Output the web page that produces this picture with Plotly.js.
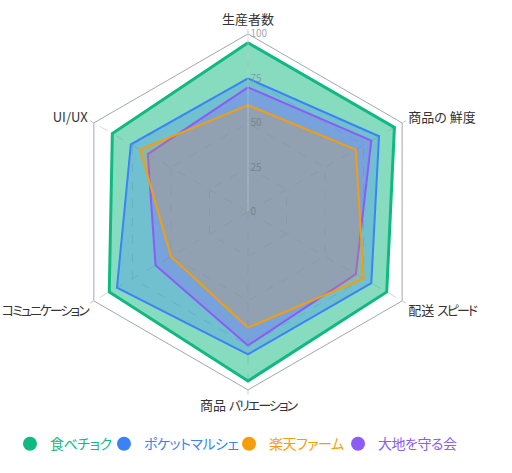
<!DOCTYPE html>
<html>
<head>
<meta charset="utf-8">
<script src="https://cdn.plot.ly/plotly-3.0.1.min.js"></script>
<style>
html,body{margin:0;padding:0;background:#fff;}
#chart{width:512px;height:473px;}
#chart svg text{font-feature-settings:"palt" 1;}
</style>
</head>
<body>
<div id="chart"></div>
<script>
var categories = ['生産者数', '商品の 鮮度', '配送 スピード', '商品 バリエーション', 'コミュニケーション', 'UI/UX'];
var seriesNames = ['食べチョク', 'ポケットマルシェ', '楽天ファーム', '大地を守る会'];
var tabechoku = [95, 95, 90, 95, 90, 88];
var pocketMarche = [75, 85, 80, 80, 85, 76];
var rakutenFarm = [60, 70, 75, 65, 50, 70];
var daichi = [70, 80, 70, 75, 60, 65];
var radialTicks = [0, 25, 50, 75, 100];

var seriesValues = [tabechoku, pocketMarche, rakutenFarm, daichi];
var colors = ['#10b981', '#3b82f6', '#f59e0b', '#8b5cf6'];
var fills = ['rgba(16,185,129,0.5)', 'rgba(59,130,246,0.3)', 'rgba(245,158,11,0.2)', 'rgba(139,92,246,0.3)'];
var widths = [3, 2, 2, 2];
var order = [0, 1, 3, 2];
var tickColors = ['#76838f', '#76838f', '#76838f', '#8a97a8', '#a3a8b3'];
var legendX = [0.0195, 0.2031, 0.4473, 0.6602];
var legendIds = ['legend', 'legend2', 'legend3', 'legend4'];

// narrow the katakana runs to match the reference's proportional kana
function condenseKana(s, sp){
  return s.replace(/([\u30A0-\u30FF]+)/g, '<span style="letter-spacing:' + sp + 'px">$1</span>');
}

var font = '"Noto Sans CJK JP", "Noto Sans", sans-serif';
var traces = [];
order.forEach(function(i){
  var v = seriesValues[i];
  traces.push({
    type: 'scatterpolar',
    r: v.concat([v[0]]),
    theta: categories.concat([categories[0]]),
    mode: 'lines',
    fill: 'toself',
    fillcolor: fills[i],
    line: {color: colors[i], width: widths[i]},
    name: seriesNames[i],
    showlegend: false,
    hoverinfo: 'skip'
  });
});
seriesNames.forEach(function(n, i){
  traces.push({
    type: 'scatterpolar',
    r: [null], theta: [null],
    mode: 'markers',
    marker: {color: colors[i], size: 14, symbol: 'circle'},
    name: '<span style="color:' + colors[i] + ';letter-spacing:-0.5px">' + n + '</span>',
    showlegend: true,
    legend: legendIds[i]
  });
});

var layout = {
  width: 512, height: 473,
  margin: {l: 0, r: 0, t: 0, b: 0},
  paper_bgcolor: '#ffffff',
  font: {family: font, color: '#374151', size: 12},
  polar: {
    domain: {x: [0.1367, 0.832], y: [0.1757, 0.9283]},
    bgcolor: '#ffffff',
    gridshape: 'linear',
    angularaxis: {
      direction: 'clockwise',
      rotation: 90,
      categoryorder: 'array',
      categoryarray: categories,
      tickmode: 'array',
      tickvals: categories,
      ticktext: categories.map(function(c){ return condenseKana(c, -2); }),
      linecolor: '#a3a7b5',
      linewidth: 1,
      gridcolor: '#d6d9de',
      griddash: 'dash',
      ticks: 'outside',
      ticklen: 4,
      tickcolor: '#c4c7cf',
      tickfont: {size: 13, color: '#333333', family: font}
    },
    radialaxis: {
      range: [0, 100],
      tickvals: radialTicks,
      ticktext: radialTicks.map(function(t, k){ return '<span style="color:' + tickColors[k] + '">' + t + '</span>'; }),
      angle: 90,
      tickangle: 90,
      layer: 'above traces',
      showline: true,
      linecolor: 'rgba(200,204,210,0.6)',
      gridcolor: 'rgba(200,204,210,0.8)',
      griddash: 'dash',
      ticks: '',
      tickfont: {size: 10, color: '#9ca3af', family: font}
    }
  },
  showlegend: true
};
legendIds.forEach(function(id, i){
  layout[id] = {
    orientation: 'h',
    x: legendX[i], xanchor: 'left',
    y: 0.061, yanchor: 'middle',
    font: {size: 14, family: font},
    itemwidth: 30,
    bgcolor: 'rgba(0,0,0,0)'
  };
});

Plotly.newPlot('chart', traces, layout, {displayModeBar: false, staticPlot: true});
</script>
</body>
</html>
